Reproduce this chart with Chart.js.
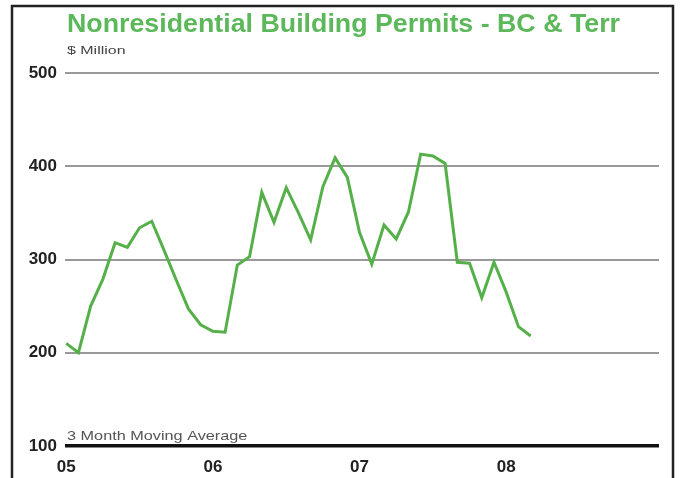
<!DOCTYPE html>
<html>
<head>
<meta charset="utf-8">
<script src="https://cdn.jsdelivr.net/npm/chart.js@4"></script>
<style>
  html, body { margin: 0; padding: 0; background: #fff; }
  #wrap { width: 680px; height: 478px; }
</style>
</head>
<body>
<div id="wrap"><canvas id="permitsChart" width="680" height="478"></canvas></div>
<script>
    // Datos: permisos no residenciales, promedio movil de 3 meses ($ millones), ene 2005 - mar 2008
    const yearLabels = ['05', '06', '07', '08'];
    const yearTicks = [0, 12, 24, 36]; // mes (desde ene 05) donde empieza cada año
    const yTicks = [100, 200, 300, 400, 500];
    const permitValues = [
        210, 200, 250, 279, 318, 313, 334, 341, 310, 278, 247, 230,
        223, 222, 294, 303, 372, 340, 377, 350, 321, 378, 409, 388,
        329, 295, 337, 322, 351, 413, 411, 403, 297, 296, 259, 297,
        265, 228, 218
    ];

    const titleText = 'Nonresidential Building Permits - BC & Terr';
    const unitText = '$ Million';
    const noteText = '3 Month Moving Average';

    // texto estirado en horizontal, como en el original
    function wideText(ctx, text, x, y, sx) {
        ctx.save();
        ctx.translate(x, y);
        ctx.scale(sx, 1);
        ctx.fillText(text, 0, 0);
        ctx.restore();
    }

    // Textos y marco dibujados sobre el canvas
    const chartText = {
        id: 'chartText',
        afterDraw(chart) {
            const ctx = chart.ctx;
            const left = chart.chartArea.left + 2;
            ctx.save();
            ctx.textBaseline = 'alphabetic';
            ctx.textAlign = 'left';

            ctx.fillStyle = '#5cb85a';
            ctx.font = 'bold 26px "Liberation Sans", Arial, sans-serif';
            wideText(ctx, titleText, left, 32, 1.03);

            ctx.fillStyle = '#444';
            ctx.font = '11px "Liberation Sans", Arial, sans-serif';
            wideText(ctx, unitText, left, 54, 1.45);

            ctx.fillStyle = '#555';
            ctx.font = '13px "Liberation Sans", Arial, sans-serif';
            wideText(ctx, noteText, left, 440, 1.25);

            // marco
            ctx.strokeStyle = '#222';
            ctx.lineWidth = 2.5;
            ctx.strokeRect(12, 6, 661, 490);
            ctx.restore();
        }
    };

    const ctx = document.getElementById('permitsChart').getContext('2d');
    const permitsChart = new Chart(ctx, {
        type: 'line',
        data: {
            datasets: [{
                data: permitValues.map((v, i) => ({ x: i, y: v })),
                borderColor: '#55b04a',
                borderWidth: 3,
                pointRadius: 0,
                tension: 0,
                fill: false
            }]
        },
        options: {
            responsive: false,
            animation: false,
            layout: { padding: { top: 73, right: 21, bottom: 0, left: 0 } },
            plugins: {
                legend: { display: false },
                tooltip: { enabled: false }
            },
            scales: {
                x: {
                    type: 'linear',
                    min: -0.1,
                    max: 48.5,
                    afterBuildTicks: scale => { scale.ticks = yearTicks.map(v => ({ value: v })); },
                    afterFit: scale => { scale.height = 32; },
                    grid: { display: false, drawTicks: false },
                    border: { display: false },
                    ticks: {
                        padding: 11,
                        color: '#222',
                        font: { family: '"Liberation Sans", Arial, sans-serif', size: 17, weight: 'bold' },
                        callback: v => yearLabels[yearTicks.indexOf(v)]
                    }
                },
                y: {
                    min: 100,
                    max: 500,
                    afterBuildTicks: scale => { scale.ticks = yTicks.map(v => ({ value: v })); },
                    afterFit: scale => { scale.width = 65; },
                    grid: {
                        drawTicks: false,
                        color: c => c.tick && c.tick.value === 100 ? '#111' : '#999',
                        lineWidth: c => c.tick && c.tick.value === 100 ? 3.5 : 2
                    },
                    border: { display: false },
                    ticks: {
                        padding: 8,
                        color: '#222',
                        font: { family: '"Liberation Sans", Arial, sans-serif', size: 17, weight: 'bold' }
                    }
                }
            }
        },
        plugins: [chartText]
    });
</script>
</body>
</html>
